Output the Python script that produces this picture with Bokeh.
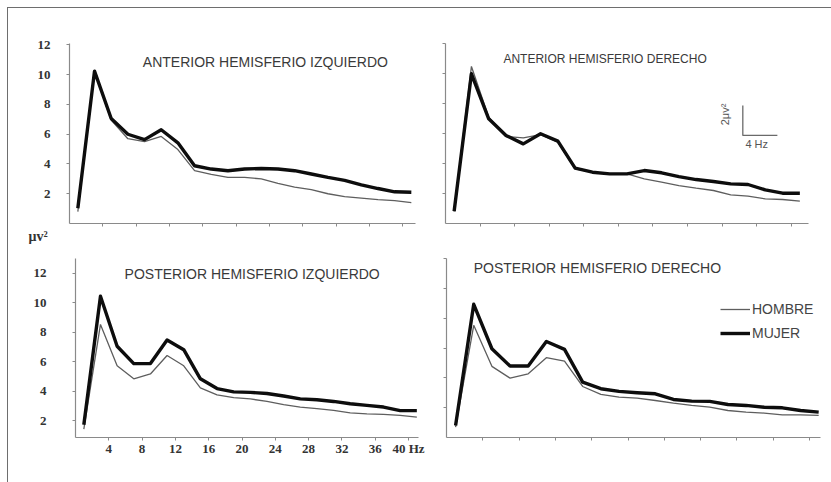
import math
from bokeh.plotting import figure
from bokeh.layouts import column, row
from bokeh.models import Range1d, FixedTicker, Label, Legend, LegendItem, Title
from bokeh.embed import file_html
from bokeh.resources import INLINE

# ---------------- data ----------------
freqs = [1, 3, 5, 7, 9, 11, 13, 15, 17, 19, 21, 23, 25, 27, 29, 31, 33, 35, 37, 39, 41]

ant_izq_hombre = [0.8, 10.2, 6.95, 5.7, 5.5, 5.85, 4.97, 3.55, 3.3, 3.1, 3.1, 3.0, 2.7, 2.45, 2.28, 2.0, 1.8, 1.7, 1.6, 1.54, 1.4]
ant_izq_mujer = [1.03, 10.24, 7.06, 6.0, 5.64, 6.3, 5.42, 3.88, 3.66, 3.55, 3.66, 3.7, 3.66, 3.55, 3.33, 3.1, 2.9, 2.6, 2.35, 2.13, 2.1]

ant_der_hombre = [0.8, 10.47, 7.09, 5.8, 5.71, 5.93, 5.42, 3.64, 3.42, 3.31, 3.31, 2.98, 2.76, 2.53, 2.36, 2.2, 1.91, 1.82, 1.64, 1.6, 1.49]
ant_der_mujer = [0.82, 9.98, 6.98, 5.87, 5.31, 5.98, 5.49, 3.69, 3.42, 3.31, 3.31, 3.53, 3.38, 3.13, 2.93, 2.8, 2.64, 2.6, 2.24, 2.02, 2.02]

pos_izq_hombre = [1.45, 8.53, 5.73, 4.85, 5.18, 6.43, 5.73, 4.24, 3.76, 3.58, 3.49, 3.32, 3.1, 2.94, 2.84, 2.72, 2.55, 2.48, 2.44, 2.37, 2.26]
pos_izq_mujer = [1.74, 10.44, 7.05, 5.88, 5.88, 7.48, 6.82, 4.85, 4.19, 3.97, 3.93, 3.86, 3.69, 3.49, 3.43, 3.32, 3.16, 3.05, 2.94, 2.7, 2.7]

pos_der_hombre = [0.69, 7.52, 4.77, 3.98, 4.27, 5.35, 5.12, 3.42, 2.89, 2.7, 2.64, 2.48, 2.3, 2.15, 2.03, 1.81, 1.7, 1.64, 1.52, 1.52, 1.48]
pos_der_mujer = [0.8, 8.93, 5.95, 4.79, 4.79, 6.44, 5.91, 3.71, 3.27, 3.09, 3.0, 2.93, 2.55, 2.44, 2.42, 2.21, 2.15, 2.03, 1.99, 1.81, 1.7]

x_ticks = [4, 8, 12, 16, 20, 24, 28, 32, 36, 40]
y_ticks = [2, 4, 6, 8, 10, 12]
x_tick_labels = {40: "40 Hz"}

titles = ["ANTERIOR HEMISFERIO IZQUIERDO", "ANTERIOR HEMISFERIO DERECHO",
          "POSTERIOR HEMISFERIO IZQUIERDO", "POSTERIOR HEMISFERIO DERECHO"]
legend_labels = ["HOMBRE", "MUJER"]
y_unit = "\u03bcv\u00b2"
scale_hz = 4
scale_uv = 2

# ---------------- styling ----------------
AXIS_COLOR = "#8a8a8a"
HOMBRE_COLOR = "#5e5e5e"
MUJER_COLOR = "#0d0d0d"
TITLE_COLOR = "#3a3a3a"
TICK_FONT = "Liberation Serif"


def style_axis(ax, labelled, ticks, standoff):
    ax.axis_line_color = AXIS_COLOR
    ax.axis_line_width = 1.2
    ax.major_tick_line_color = AXIS_COLOR
    ax.minor_tick_line_color = AXIS_COLOR
    ax.major_tick_in = 0
    ax.major_tick_out = 3
    ax.minor_tick_in = 0
    ax.minor_tick_out = 3
    ax.major_label_text_font = TICK_FONT
    ax.major_label_text_font_style = "bold"
    ax.major_label_text_font_size = "13px"
    ax.major_label_text_color = "#333333"
    ax.major_label_standoff = standoff
    if labelled:
        ax.ticker = FixedTicker(ticks=ticks, minor_ticks=[])
    else:
        # tick marks only, no labels
        ax.ticker = FixedTicker(ticks=[], minor_ticks=ticks)


def make_fig(width, height, lb, rb, tb, bb, xr, yr, show_x, show_y, y_standoff=16):
    p = figure(width=width, height=height,
               min_border_left=lb, min_border_right=rb,
               min_border_top=tb, min_border_bottom=bb,
               x_range=Range1d(*xr), y_range=Range1d(*yr),
               output_backend="svg", toolbar_location=None, tools="")
    p.outline_line_color = None
    p.grid.visible = False
    p.background_fill_color = "white"
    p.border_fill_color = "white"
    style_axis(p.xaxis[0], show_x, x_ticks, 0)
    style_axis(p.yaxis[0], show_y, y_ticks, y_standoff)
    if show_x:
        p.xaxis.major_label_overrides = x_tick_labels
    return p


def add_lines(p, hombre, mujer):
    rh = p.line(freqs, hombre, line_color=HOMBRE_COLOR, line_width=1.3)
    rm = p.line(freqs, mujer, line_color=MUJER_COLOR, line_width=3.4, line_join="round")
    return rh, rm


def add_title(p, text, x, y, size="14px"):
    p.add_layout(Label(x=x, y=y, text=text, text_font="Liberation Sans", text_font_size=size,
                       text_color=TITLE_COLOR, text_align="left", text_baseline="middle"))


# top-left
tl = make_fig(422, 240, 61, 15, 32, 24, (0, 41.5), (0, 12.1), False, True, 16)
add_lines(tl, ant_izq_hombre, ant_izq_mujer)
add_title(tl, titles[0], 8.8, 10.86)
tl.add_layout(Title(text=y_unit, align="left", offset=-41, standoff=0,
                    text_font=TICK_FONT, text_font_style="bold", text_font_size="14px",
                    text_color="#333333"), "below")

# top-right
tr = make_fig(401, 240, 15, 23, 35, 25, (0, 42), (0, 12), False, False)
add_lines(tr, ant_der_hombre, ant_der_mujer)
add_title(tr, titles[1], 6.7, 11.0, size="12px")
sx0, sy0 = 34.4, 5.87
tr.line([sx0, sx0, sx0 + scale_hz], [sy0 + scale_uv, sy0, sy0], line_color="#6a6a6a", line_width=1.3)
tr.add_layout(Label(x=32.3, y=7.27, text="2" + y_unit, text_font="Liberation Sans",
                    text_font_size="11px", text_color="#555555", angle=math.pi / 2,
                    text_align="center", text_baseline="middle"))
tr.add_layout(Label(x=34.7, y=5.33, text="%d Hz" % scale_hz, text_font="Liberation Sans",
                    text_font_size="11px", text_color="#555555",
                    text_align="left", text_baseline="middle"))

# bottom-left
bl = make_fig(422, 234, 67, 12, 5, 45, (0, 41.2), (0.88, 12.99), True, True, 26)
add_lines(bl, pos_izq_hombre, pos_izq_mujer)
add_title(bl, titles[2], 5.9, 11.93)

# bottom-right
br = make_fig(401, 234, 16, 11, 10, 45, (0, 41.2), (0, 12), False, False)
rh, rm = add_lines(br, pos_der_hombre, pos_der_mujer)
add_title(br, titles[3], 3.0, 11.34)
legend = Legend(items=[LegendItem(label=legend_labels[0], renderers=[rh]),
                       LegendItem(label=legend_labels[1], renderers=[rm])],
                location=(274, 94), padding=0, margin=0, spacing=4,
                label_height=20, glyph_height=20, glyph_width=30, label_standoff=2,
                border_line_color=None, background_fill_alpha=0,
                label_text_font="Liberation Sans", label_text_font_size="14px",
                label_text_color="#444444")
br.add_layout(legend)

layout = column(row(tl, tr), row(bl, br), margin=(7, 0, 0, 7),
                styles={"border-top": "1.5px solid #6e6e6e", "border-left": "1.5px solid #6e6e6e"})

open("out.html", "w").write(file_html(layout, INLINE))
